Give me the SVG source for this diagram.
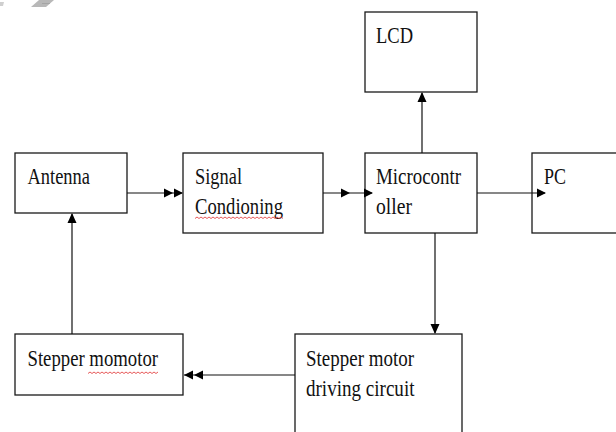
<svg xmlns="http://www.w3.org/2000/svg" width="616" height="432" viewBox="0 0 616 432">
<style>
.box{fill:#fff;stroke:#1a1a1a;stroke-width:1.3}
.ln{fill:none;stroke:#111;stroke-width:1.2}
.ah{fill:#000}
.t{font-family:"Liberation Serif","Times New Roman",serif;font-size:24px;fill:#111}
.sq{fill:none;stroke:#e03030;stroke-width:0.8}
</style>
<rect width="616" height="432" fill="#fff"/>
<g id="artifact">
<polygon points="39,0 54,0 46,7 31,7" fill="#b8b8b8"/>
<line x1="42" y1="3.5" x2="50" y2="3.5" stroke="#999" stroke-width="0.6"/>
<polygon points="0,2 4,2 3,6 0,6" fill="#cfcfcf"/>
</g>
<g id="lcd">
<rect class="box" x="365" y="12" width="112" height="80"/>
<text class="t" x="376" y="43" textLength="37" lengthAdjust="spacingAndGlyphs">LCD</text>
</g>
<g id="antenna">
<rect class="box" x="15" y="153" width="112" height="60"/>
<text class="t" x="27.5" y="184" textLength="62.5" lengthAdjust="spacingAndGlyphs">Antenna</text>
</g>
<g id="signal">
<rect class="box" x="183" y="153" width="140" height="80"/>
<text class="t" x="195" y="184" textLength="47" lengthAdjust="spacingAndGlyphs">Signal</text>
<text class="t" x="195" y="214" textLength="88" lengthAdjust="spacingAndGlyphs">Condioning</text>
<path class="sq" d="M195,218.5 l2,-1.5 l2,1.5 l2,-1.5 l2,1.5 l2,-1.5 l2,1.5 l2,-1.5 l2,1.5 l2,-1.5 l2,1.5 l2,-1.5 l2,1.5 l2,-1.5 l2,1.5 l2,-1.5 l2,1.5 l2,-1.5 l2,1.5 l2,-1.5 l2,1.5 l2,-1.5 l2,1.5 l2,-1.5 l2,1.5 l2,-1.5 l2,1.5 l2,-1.5 l2,1.5 l2,-1.5 l2,1.5 l2,-1.5 l2,1.5 l2,-1.5 l2,1.5 l2,-1.5 l2,1.5 l2,-1.5 l2,1.5 l2,-1.5 l2,1.5 l2,-1.5 l2,1.5 l2,-1.5 l2,1.5"/>
</g>
<g id="microcontroller">
<rect class="box" x="365" y="153" width="112" height="80"/>
<text class="t" x="376" y="184" textLength="85" lengthAdjust="spacingAndGlyphs">Microcontr</text>
<text class="t" x="376" y="214" textLength="36" lengthAdjust="spacingAndGlyphs">oller</text>
</g>
<g id="pc">
<rect class="box" x="532" y="153" width="100" height="80"/>
<text class="t" x="544" y="184" textLength="22" lengthAdjust="spacingAndGlyphs">PC</text>
</g>
<g id="stepper-motor">
<rect class="box" x="15" y="334" width="168" height="61"/>
<text class="t" x="27.5" y="366" textLength="130.5" lengthAdjust="spacingAndGlyphs">Stepper momotor</text>
<path class="sq" d="M88,373.5 l2,-1.5 l2,1.5 l2,-1.5 l2,1.5 l2,-1.5 l2,1.5 l2,-1.5 l2,1.5 l2,-1.5 l2,1.5 l2,-1.5 l2,1.5 l2,-1.5 l2,1.5 l2,-1.5 l2,1.5 l2,-1.5 l2,1.5 l2,-1.5 l2,1.5 l2,-1.5 l2,1.5 l2,-1.5 l2,1.5 l2,-1.5 l2,1.5 l2,-1.5 l2,1.5 l2,-1.5 l2,1.5 l2,-1.5 l2,1.5 l2,-1.5 l2,1.5 l2,-1.5"/>
</g>
<g id="driving-circuit">
<rect class="box" x="295" y="334" width="167" height="110"/>
<text class="t" x="306" y="366" textLength="108" lengthAdjust="spacingAndGlyphs">Stepper motor</text>
<text class="t" x="306" y="396" textLength="108.5" lengthAdjust="spacingAndGlyphs">driving circuit</text>
</g>
<g id="connectors">
<line class="ln" x1="127" y1="193" x2="182" y2="193"/>
<polygon class="ah" points="173,193 164,188.5 164,197.5"/>
<polygon class="ah" points="183,193 174,188.5 174,197.5"/>
<line class="ln" x1="323" y1="193" x2="372" y2="193"/>
<polygon class="ah" points="350,193 341,188.5 341,197.5"/>
<polygon class="ah" points="373,193 364,188.5 364,197.5"/>
<line class="ln" x1="477" y1="193" x2="545" y2="193"/>
<polygon class="ah" points="546,193 537,188.5 537,197.5"/>
<line class="ln" x1="422" y1="153" x2="422" y2="93"/>
<polygon class="ah" points="422,92 417.5,102 426.5,102"/>
<line class="ln" x1="435" y1="233" x2="435" y2="333"/>
<polygon class="ah" points="435,334 430.5,324 439.5,324"/>
<line class="ln" x1="295" y1="375" x2="184" y2="375"/>
<polygon class="ah" points="194,375 203,370.5 203,379.5"/>
<polygon class="ah" points="184,375 193,370.5 193,379.5"/>
<line class="ln" x1="72" y1="334" x2="72" y2="214"/>
<polygon class="ah" points="72,213 67.5,223 76.5,223"/>
</g>
</svg>
